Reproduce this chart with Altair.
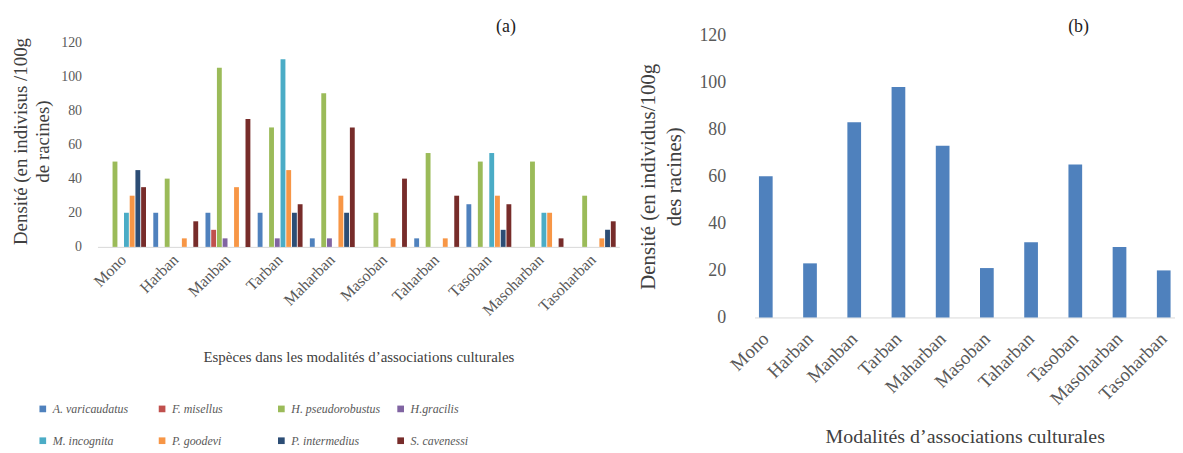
import altair as alt
import pandas as pd

modalites = ["Mono", "Harban", "Manban", "Tarban", "Maharban", "Masoban",
             "Taharban", "Tasoban", "Masoharban", "Tasoharban"]
especes = ["A. varicaudatus", "F. misellus", "H. pseudorobustus", "H.gracilis",
           "M. incognita", "P. goodevi", "P. intermedius", "S. cavenessi"]
couleurs = ["#4F81BD", "#C0504D", "#9BBB59", "#8064A2",
            "#4BACC6", "#F79646", "#2C4D75", "#772C2A"]

a_varicaudatus = [0, 20, 20, 20, 5, 0, 5, 25, 0, 0]
f_misellus = [0, 0, 10, 0, 0, 0, 0, 0, 0, 0]
h_pseudorobustus = [50, 40, 105, 70, 90, 20, 55, 50, 50, 30]
h_gracilis = [0, 0, 5, 5, 5, 0, 0, 0, 0, 0]
m_incognita = [20, 0, 0, 110, 0, 0, 0, 55, 20, 0]
p_goodevi = [30, 5, 35, 45, 30, 5, 5, 30, 20, 5]
p_intermedius = [45, 0, 0, 20, 20, 0, 0, 10, 0, 10]
s_cavenessi = [35, 15, 75, 25, 70, 40, 30, 25, 5, 15]

densite_totale = [60, 23, 83, 98, 73, 21, 32, 65, 30, 20]

series = [a_varicaudatus, f_misellus, h_pseudorobustus, h_gracilis,
          m_incognita, p_goodevi, p_intermedius, s_cavenessi]

rows = []
for esp, vals in zip(especes, series):
    for mod, v in zip(modalites, vals):
        rows.append({"modalite": mod, "espece": esp, "densite": v})
df_a = pd.DataFrame(rows)
df_b = pd.DataFrame({"modalite": modalites, "densite": densite_totale})

FONT = "'Liberation Serif', 'Times New Roman', serif"
LAB = "#595959"
TIT = "#404040"

bars_a = alt.Chart(df_a).mark_bar().encode(
    x=alt.X("modalite:N", sort=modalites,
            scale=alt.Scale(paddingInner=0.14, paddingOuter=0.07),
            axis=alt.Axis(title="Espèces dans les modalités d’associations culturales",
                          labelAngle=-45, labelAlign="right", labelBaseline="middle",
                          labelFont=FONT, labelFontSize=16, labelColor=LAB,
                          labelPadding=10, ticks=False, domainColor="#D9D9D9",
                          titleFont=FONT, titleFontSize=15, titleFontWeight="normal",
                          titleColor=TIT, titlePadding=32)),
    xOffset=alt.XOffset("espece:N", sort=especes,
                        scale=alt.Scale(paddingInner=0.15)),
    y=alt.Y("densite:Q",
            scale=alt.Scale(domain=[0, 124.08], nice=False),
            axis=alt.Axis(values=[0, 20, 40, 60, 80, 100, 120],
                          title=["Densité (en indivisus /100g", "de racines)"],
                          domain=False, ticks=False, grid=False,
                          labelFont=FONT, labelFontSize=14, labelColor=LAB,
                          labelPadding=16,
                          titleFont=FONT, titleFontSize=19, titleFontWeight="normal",
                          titleColor=TIT, titlePadding=8, titleLineHeight=22)),
    color=alt.Color("espece:N", sort=especes,
                    scale=alt.Scale(domain=especes, range=couleurs),
                    legend=alt.Legend(title=None, orient="none", legendX=-61,
                                      legendY=370, columns=4, direction="horizontal",
                                      symbolType="square", symbolSize=45,
                                      symbolStrokeWidth=0,
                                      labelFont=FONT, labelFontSize=12,
                                      labelFontStyle="italic", labelColor=LAB,
                                      gridAlign="all", columnPadding=14,
                                      rowPadding=20)),
)

lab_a = alt.Chart(pd.DataFrame({"t": ["(a)"]})).mark_text(
    font=FONT, fontSize=18, color="#222222"
).encode(text="t:N", x=alt.value(411), y=alt.value(-8))

panel_a = alt.layer(bars_a, lab_a).properties(width=525, height=213)

bars_b = alt.Chart(df_b).mark_bar(color="#4F81BD").encode(
    x=alt.X("modalite:N", sort=modalites,
            scale=alt.Scale(paddingInner=0.69, paddingOuter=0.1),
            axis=alt.Axis(title="Modalités d’associations culturales",
                          labelAngle=-45, labelAlign="right", labelBaseline="middle",
                          labelFont=FONT, labelFontSize=19, labelColor=LAB,
                          labelPadding=18, ticks=False, domainColor="#D9D9D9",
                          titleFont=FONT, titleFontSize=20, titleFontWeight="normal",
                          titleColor=TIT, titlePadding=18)),
    y=alt.Y("densite:Q",
            scale=alt.Scale(domain=[0, 120], nice=False),
            axis=alt.Axis(values=[0, 20, 40, 60, 80, 100, 120],
                          title=["Densité (en individus/100g", "des racines)"],
                          domain=False, ticks=False, grid=False,
                          labelFont=FONT, labelFontSize=18, labelColor=LAB,
                          labelPadding=29,
                          titleFont=FONT, titleFontSize=21, titleFontWeight="normal",
                          titleColor=TIT, titlePadding=14, titleLineHeight=27)),
)

lab_b = alt.Chart(pd.DataFrame({"t": ["(b)"]})).mark_text(
    font=FONT, fontSize=18, color="#222222"
).encode(text="t:N", x=alt.value(326), y=alt.value(-8))

panel_b = alt.layer(bars_b, lab_b).properties(width=423, height=284)

chart = alt.hconcat(panel_a, panel_b, spacing=136, bounds="flush").properties(
    padding={"left": 4, "top": 9, "right": 0, "bottom": 0}
).configure(font=FONT).configure_view(stroke=None)

chart.save("out.html", embed_options={"renderer": "svg", "actions": False})
